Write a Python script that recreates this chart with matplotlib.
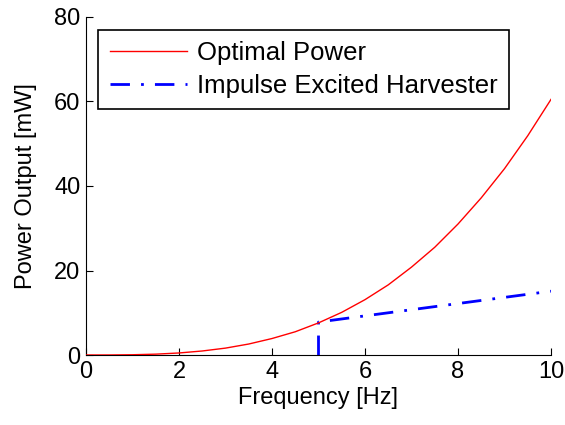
import matplotlib
matplotlib.use('Agg')
import matplotlib.pyplot as plt

plt.rcParams['font.family'] = ['Liberation Sans', 'DejaVu Sans']

# values
freq = [0, 0.5, 1, 1.5, 2, 2.5, 3, 3.5, 4, 4.5, 5,
        5.5, 6, 6.5, 7, 7.5, 8, 8.5, 9, 9.5, 10]
optimal_power = [0, 0.008, 0.06, 0.2, 0.48, 0.95, 1.63, 2.6, 3.9, 5.5, 7.6,
                 10.1, 13.1, 16.6, 20.8, 25.5, 31.0, 37.2, 44.1, 51.9, 60.5]

impulse_freq = [5, 5, 10]
impulse_power = [0, 7.8, 15.1]

fig = plt.figure(figsize=(5.65, 4.25), dpi=100)
ax = fig.add_axes([86 / 565, 70 / 425, 465 / 565, 338 / 425])

ax.plot(freq, optimal_power, color='red', lw=1.0, label='Optimal Power', zorder=3)
ax.plot(impulse_freq, impulse_power, color='blue', lw=2.0, ls='-.',
        dashes=(7, 4, 1, 4), label='Impulse Excited Harvester', zorder=2)

ax.set_xlim(0, 10)
ax.set_ylim(0, 80)
ax.set_xticks([0, 2, 4, 6, 8, 10])
ax.set_yticks([0, 20, 40, 60, 80])
ax.tick_params(direction='in', length=5, labelsize=17, width=0.8, pad=4)
ax.spines['top'].set_visible(False)
ax.spines['right'].set_visible(False)

ax.set_xlabel('Frequency [Hz]', fontsize=17, labelpad=3)
ax.set_ylabel('Power Output [mW]', fontsize=17, labelpad=12)

leg = ax.legend(loc='upper left', bbox_to_anchor=(0.026, 0.962), fontsize=18.5,
                frameon=True, fancybox=False, framealpha=1, borderaxespad=0,
                handlelength=3.0, handletextpad=0.4, borderpad=0.45,
                labelspacing=0.33)
leg.get_frame().set_edgecolor('black')
leg.get_frame().set_linewidth(1.2)

plt.savefig('out.png', dpi=100, facecolor='white')
plt.close()
